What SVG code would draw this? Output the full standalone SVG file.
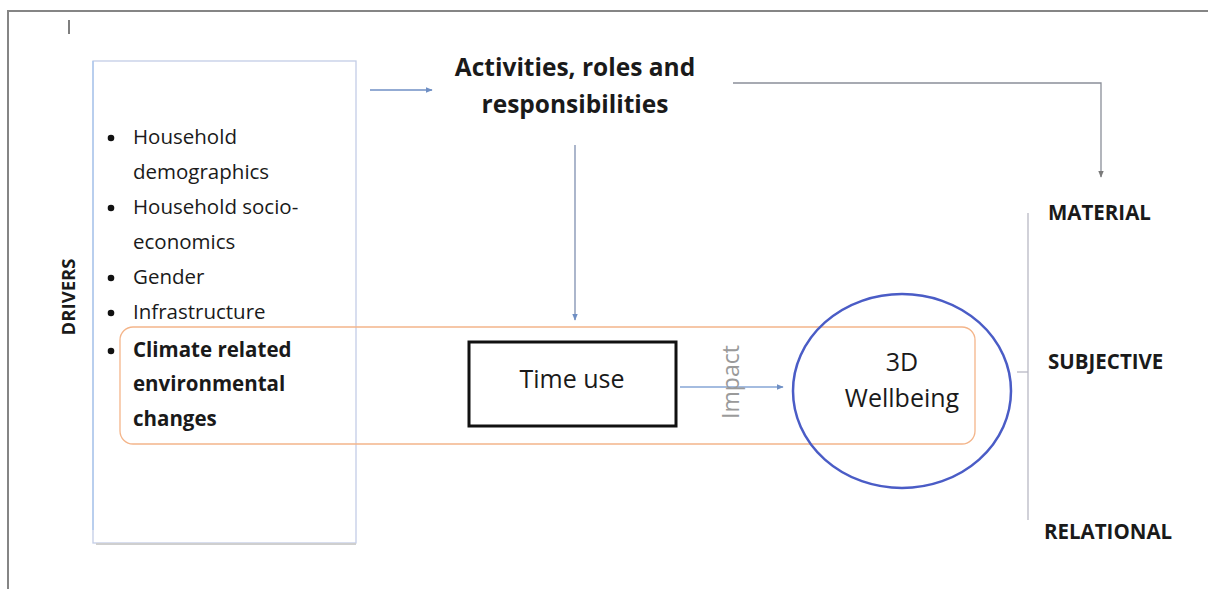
<svg xmlns="http://www.w3.org/2000/svg" width="1208" height="589" viewBox="0 0 1208 589">
  <defs>
    <marker id="arrowBlue" viewBox="0 0 10 10" refX="9" refY="5" markerWidth="7" markerHeight="7" orient="auto-start-reverse" markerUnits="userSpaceOnUse">
      <path d="M0,1 L10,5 L0,9 z" fill="#6f8fc4"/>
    </marker>
    <marker id="arrowGray" viewBox="0 0 10 10" refX="9" refY="5" markerWidth="7" markerHeight="7" orient="auto-start-reverse" markerUnits="userSpaceOnUse">
      <path d="M0,1 L10,5 L0,9 z" fill="#7a7a7a"/>
    </marker>
  </defs>
  <style>
    .txt { font-family: "Open Sans", "Liberation Sans", sans-serif; fill: #1a1a1a; }
    .item { font-size: 20.5px; }
    .bold { font-weight: bold; }
    .dim { font-size: 20.5px; font-weight: bold; }
    .conn { fill: none; stroke-width: 1.3; }
  </style>

  <rect width="1208" height="589" fill="#ffffff"/>

  <!-- page frame -->
  <g id="frame">
    <polyline points="1208,11 8,11 8,589" fill="none" stroke="#858585" stroke-width="2"/>
    <line x1="69" y1="20" x2="69" y2="34" stroke="#555" stroke-width="1.5"/>
  </g>

  <!-- drivers box -->
  <g id="drivers">
    <rect x="93" y="61" width="263" height="482" fill="#ffffff" stroke="#c3cde6" stroke-width="1.3"/>
    <line x1="93" y1="61" x2="93" y2="530" stroke="#a9c6ee" stroke-width="1.3"/>
    <line x1="96" y1="544" x2="356" y2="544" stroke="#cfcfcf" stroke-width="2"/>
    <g class="txt item">
      <circle cx="111" cy="138" r="3.3" fill="#111"/>
      <text x="133" y="144">Household</text>
      <text x="133" y="179">demographics</text>
      <circle cx="111" cy="208" r="3.3" fill="#111"/>
      <text x="133" y="214">Household socio-</text>
      <text x="133" y="249">economics</text>
      <circle cx="111" cy="278" r="3.3" fill="#111"/>
      <text x="133" y="284">Gender</text>
      <circle cx="111" cy="313" r="3.3" fill="#111"/>
      <text x="133" y="319">Infrastructure</text>
      <circle cx="111" cy="351" r="3.3" fill="#111"/>
      <text x="133" y="357" class="bold">Climate related</text>
      <text x="133" y="391" class="bold">environmental</text>
      <text x="133" y="426" class="bold">changes</text>
    </g>
  </g>

  <g id="drivers-label">
    <text class="txt bold" font-size="18.5" transform="translate(75,297) rotate(-90)" text-anchor="middle">DRIVERS</text>
  </g>

  <!-- grouping outline around climate / time use / wellbeing -->
  <g id="climate-band">
    <rect x="120" y="327" width="855" height="117" rx="13" fill="none" stroke="#f4b58a" stroke-width="1.3"/>
  </g>

  <g id="activities">
    <text class="txt bold" font-size="24.5" text-anchor="middle" x="575" y="76">Activities, roles and</text>
    <text class="txt bold" font-size="24.5" text-anchor="middle" x="575" y="113">responsibilities</text>
  </g>

  <g id="time-use">
    <rect x="469" y="342" width="207" height="84" fill="#ffffff" stroke="#111" stroke-width="3"/>
    <text class="txt" font-size="25" text-anchor="middle" x="572" y="388">Time use</text>
  </g>

  <g id="wellbeing">
    <ellipse cx="902" cy="391" rx="109" ry="97" fill="none" stroke="#4a5cc6" stroke-width="2.5"/>
    <text class="txt" font-size="25" text-anchor="middle" x="902" y="371">3D</text>
    <text class="txt" font-size="25" text-anchor="middle" x="902" y="407">Wellbeing</text>
  </g>

  <g id="dimensions">
    <text class="txt dim" x="1048" y="220">MATERIAL</text>
    <text class="txt dim" x="1048" y="369">SUBJECTIVE</text>
    <text class="txt dim" x="1044" y="539">RELATIONAL</text>
  </g>

  <!-- connectors -->
  <g id="connectors">
    <line class="conn" x1="370" y1="90" x2="432" y2="90" stroke="#6f8fc4" marker-end="url(#arrowBlue)"/>
    <line class="conn" x1="575" y1="145" x2="575" y2="320" stroke="#7f8fb0" marker-end="url(#arrowBlue)"/>
    <polyline class="conn" points="733,83 1101,83 1101,177" stroke="#8a8f99" marker-end="url(#arrowGray)"/>
    <line class="conn" x1="680" y1="387" x2="783" y2="387" stroke="#86a6d6" marker-end="url(#arrowBlue)"/>
    <text class="txt" font-size="23" style="fill:#9a9a9a" text-anchor="middle" transform="translate(739,382) rotate(-90)">Impact</text>
    <line class="conn" x1="1028" y1="213" x2="1028" y2="520" stroke="#b9b9c4" stroke-width="2"/>
    <line class="conn" x1="1017" y1="372" x2="1028" y2="372" stroke="#b9b9c4"/>
  </g>
</svg>
